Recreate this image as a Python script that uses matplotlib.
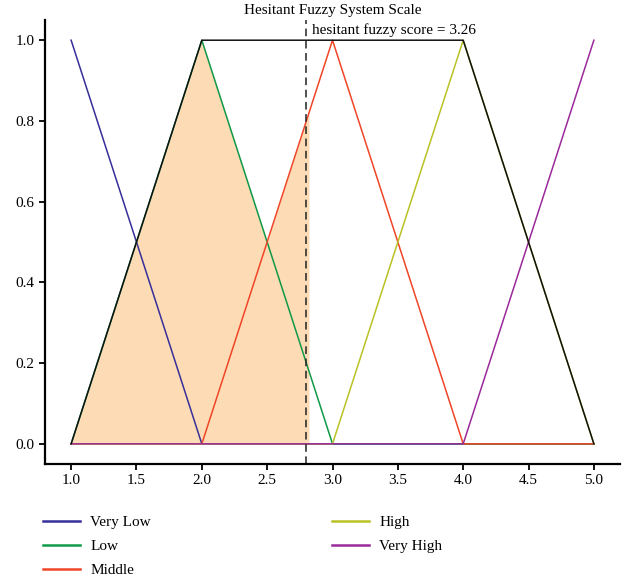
import numpy as np
import matplotlib
matplotlib.use("Agg")
import matplotlib.pyplot as plt

plt.rcParams["font.family"] = ["Liberation Serif", "DejaVu Serif"]

# membership functions, vertices at the scale points
scale = [1.0, 2.0, 3.0, 4.0, 5.0]
very_low = [1, 0, 0, 0, 0]
low = [0, 1, 0, 0, 0]
middle = [0, 0, 1, 0, 0]
high = [0, 0, 0, 1, 0]
very_high = [0, 0, 0, 0, 1]

labels = ["Very Low", "Low", "Middle", "High", "Very High"]
colours = ["#372f99", "#109a48", "#f04527", "#b9c225", "#9a2a9a"]

# outer envelope
env_x = [1.0, 2.0, 4.0, 5.0]
env_y = [0, 1, 1, 0]

cut_x = 2.8     # dashed marker
fill_end = 2.82
score_text = "hesitant fuzzy score = 3.26"

fig = plt.figure(figsize=(6.31, 5.82), dpi=100)
ax = fig.add_axes([0.0713, 0.2027, 0.9113, 0.7629])

# shaded area under low / middle up to the cut
xf = np.linspace(1.0, fill_end, 300)
yf = np.maximum(np.interp(xf, scale, low), np.interp(xf, scale, middle))
ax.fill_between(xf, 0, yf, color="#fcdbb5", lw=0)

for ys, lab, c in zip([very_low, low, middle, high, very_high], labels, colours):
    ax.plot(scale, ys, color=c, lw=1.1, label=lab)

ax.plot(env_x, env_y, color="#111111", lw=1.1)
ax.axvline(cut_x, color="#222222", lw=1.1, ls=(0, (5, 3)))
ax.text(cut_x + 0.04, 1.015, score_text, fontsize=11, va="baseline", ha="left")

ax.set_xlim(0.8, 5.2)
ax.set_ylim(-0.05, 1.05)
ax.set_xticks(np.arange(1.0, 5.01, 0.5))
ax.set_yticks(np.arange(0.0, 1.01, 0.2))
ax.xaxis.set_major_formatter(matplotlib.ticker.FormatStrFormatter("%.1f"))
ax.yaxis.set_major_formatter(matplotlib.ticker.FormatStrFormatter("%.1f"))
ax.tick_params(labelsize=11, length=4, width=1.3, direction="out")
for s in ["top", "right"]:
    ax.spines[s].set_visible(False)
for s in ["left", "bottom"]:
    ax.spines[s].set_linewidth(1.6)

ax.set_title("Hesitant Fuzzy System Scale", fontsize=11, pad=4)

handles, labs = ax.get_legend_handles_labels()
leg = fig.legend(handles, labs, loc="upper left", bbox_to_anchor=(0.068, 0.1143),
                 ncol=2, frameon=False, fontsize=11, handlelength=2.4,
                 handletextpad=0.7, labelspacing=0.68, columnspacing=11.85,
                 borderaxespad=0, borderpad=0)
for ln in leg.get_lines():
    ln.set_linewidth(1.8)

plt.savefig("out.png", dpi=100)
plt.close()
